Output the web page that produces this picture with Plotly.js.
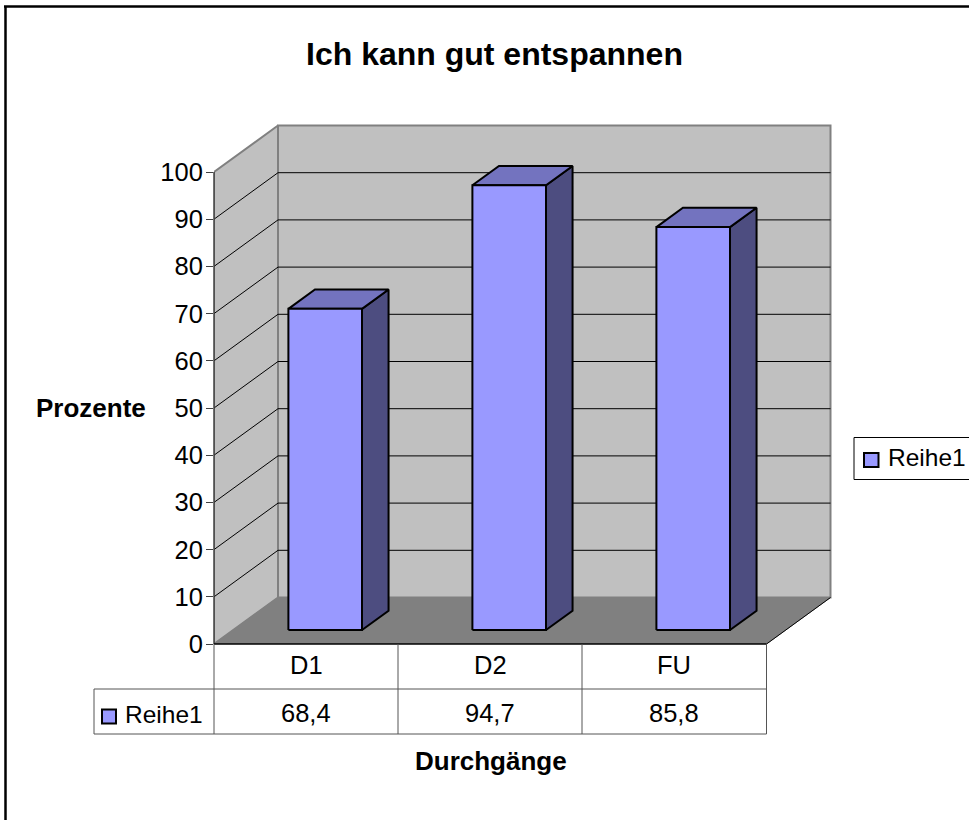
<!DOCTYPE html>
<html><head><meta charset="utf-8">
<script src="https://cdn.plot.ly/plotly-3.0.1.min.js"></script>
<style>html,body{margin:0;padding:0;background:#fff}#c{width:969px;height:820px}</style>
</head><body><div id="c"></div>
<script>
const categories = ['D1','D2','FU'];
const seriesName = 'Reihe1';
const values = [68.4, 94.7, 85.8];
const yTicks = [0,10,20,30,40,50,60,70,80,90,100];
const valueLabels = ['68,4','94,7','85,8'];

// chart geometry (pixels of the frame)
const W=969,H=820,L=214,R=834,T=124,B=644;
const cellW=184, unitY=4.72, depthX=64, depthY=46.5;
const xMin=-0.5, xMax=xMin+(R-L)/cellW;
const yMin=0, yMax=(B-T)/unitY;
const ddx=depthX/cellW, ddy=depthY/unitY;
const xEnd=xMin+(766.5-L)/cellW;
const P=(x,v,d)=>[x+d*ddx, v+d*ddy];
const px=x=>(x-L)/(R-L), py=y=>(B-y)/(B-T);

const DARK='#4d4d80', FRONT='#9999ff', TOP='#7373bf';
const d0=0.3, d1=0.715, halfW=0.2;   // bar position in depth and half width
const barScale=0.995;

function poly(pts,fill,line,w,name){
  return {type:'scatter',mode:'lines',x:pts.map(p=>p[0]),y:pts.map(p=>p[1]),cliponaxis:false,
    fill:'toself',fillcolor:fill,line:{color:line,width:w},hoverinfo:'skip',showlegend:false,name:name||''};
}
const traces=[];
// walls and floor
traces.push(poly([P(xMin,0,0),P(xMin,100,0),P(xMin,100,1),P(xMin,0,1),P(xMin,0,0)],'#c0c0c0','#808080',2));
traces.push(poly([P(xMin,0,1),P(xMin,100,1),P(xEnd,100,1),P(xEnd,0,1),P(xMin,0,1)],'#c0c0c0','#808080',2));
traces.push(poly([P(xMin,0,0),P(xMin,0,1),P(xEnd,0,1),P(xEnd,0,0),P(xMin,0,0)],'#808080','#808080',1));
// gridlines: left wall then back wall
yTicks.slice(1,-1).forEach(v=>{
  const a=P(xMin,v,0),b=P(xMin,v,1),c=P(xEnd,v,1);
  traces.push({type:'scatter',mode:'lines',x:[a[0],b[0],c[0]],y:[a[1],b[1],c[1]],cliponaxis:false,
    line:{color:'#000',width:1},hoverinfo:'skip',showlegend:false});
});
// floor right edge
{
  const a=P(xEnd,0,0),b=P(xEnd,0,1);
  traces.push({type:'scatter',mode:'lines',x:[a[0],b[0]],y:[a[1],b[1]],cliponaxis:false,line:{color:'#000',width:1},hoverinfo:'skip',showlegend:false});
}
// bars: side, top and front faces
values.forEach((v,i)=>{
  const t=v*barScale, xl=i-halfW, xr=i+halfW;
  traces.push(poly([P(xr,0,d0),P(xr,0,d1),P(xr,t,d1),P(xr,t,d0),P(xr,0,d0)],DARK,'#000',2));
  traces.push(poly([P(xl,t,d0),P(xl,t,d1),P(xr,t,d1),P(xr,t,d0),P(xl,t,d0)],TOP,'#000',2));
  traces.push(poly([P(xl,0,d0),P(xl,t,d0),P(xr,t,d0),P(xr,0,d0),P(xl,0,d0)],FRONT,'#000',2,seriesName));
});

const rect=(x0,y0,x1,y1,col,w,fill)=>({type:'rect',xref:'paper',yref:'paper',x0:px(x0),x1:px(x1),y0:py(y0),y1:py(y1),
  line:{color:col,width:w},fillcolor:fill||'rgba(0,0,0,0)',layer:'above'});
const seg=(x0,y0,x1,y1,col,w)=>({type:'line',xref:'paper',yref:'paper',x0:px(x0),x1:px(x1),y0:py(y0),y1:py(y1),
  line:{color:col,width:w},layer:'above'});

const shapes=[
  // outer frame
  seg(4,6.5,W,6.5,'#000',2.5), seg(5.5,6,5.5,H,'#000',2.5),
  // axes lines in the front plane
  seg(L,172,L,B,'#404040',1.5), seg(L,B,766.5,B,'#000',1.5),
  // data table
  seg(L,B,L,734,'#555',1), seg(398,B,398,734,'#555',1), seg(582,B,582,734,'#555',1), seg(766.5,B,766.5,734,'#555',1),
  seg(94,689,766.5,689,'#555',1), seg(94,734,766.5,734,'#555',1), seg(94,689,94,734,'#555',1),
  // table key, legend box and key
  rect(102,709.5,116,723.5,'#000',2,FRONT),
  rect(854,437.5,W+4,479.5,'#000',1,'#fff'),
  rect(864,453,878.5,467,'#000',2,FRONT)
];
const fnt={family:'Liberation Sans, Arial, sans-serif',color:'#000'};
const ann=(x,y,text,size,bold,anchor)=>({xref:'paper',yref:'paper',x:px(x),y:py(y),text:bold?'<b>'+text+'</b>':text,
  showarrow:false,xanchor:anchor||'center',yanchor:'middle',font:Object.assign({},fnt,{size:size}),borderpad:0,captureevents:false});
const annotations=[
  ann(494,54,'Ich kann gut entspannen',32,true),
  ann(90.5,408,'Prozente',26,true),
  ann(490.5,761,'Durchgänge',26,true),
  ann(124,714,seriesName,24.5,false,'left'),
  ann(886.5,458,seriesName,24.5,false,'left')
];
categories.forEach((c,i)=>{
  annotations.push(ann(306+i*184,665,c,25.5));
  annotations.push(ann(306+i*184,712.5,valueLabels[i],25.5));
});

Plotly.newPlot('c',traces,{
  width:W,height:H,showlegend:false,paper_bgcolor:'#fff',plot_bgcolor:'rgba(0,0,0,0)',
  margin:{l:L,r:W-R,t:T,b:H-B,pad:0},
  xaxis:{range:[xMin,xMax],showgrid:false,zeroline:false,showline:false,tickvals:[],fixedrange:true},
  yaxis:{range:[yMin,yMax],showgrid:false,zeroline:false,showline:false,tickvals:yTicks,ticks:'outside',ticklen:7,tickwidth:1,tickcolor:'#404040',
    ticklabelstandoff:-2,tickfont:Object.assign({},fnt,{size:25.5}),fixedrange:true},
  shapes:shapes,annotations:annotations
},{displayModeBar:false,staticPlot:true});
</script></body></html>
